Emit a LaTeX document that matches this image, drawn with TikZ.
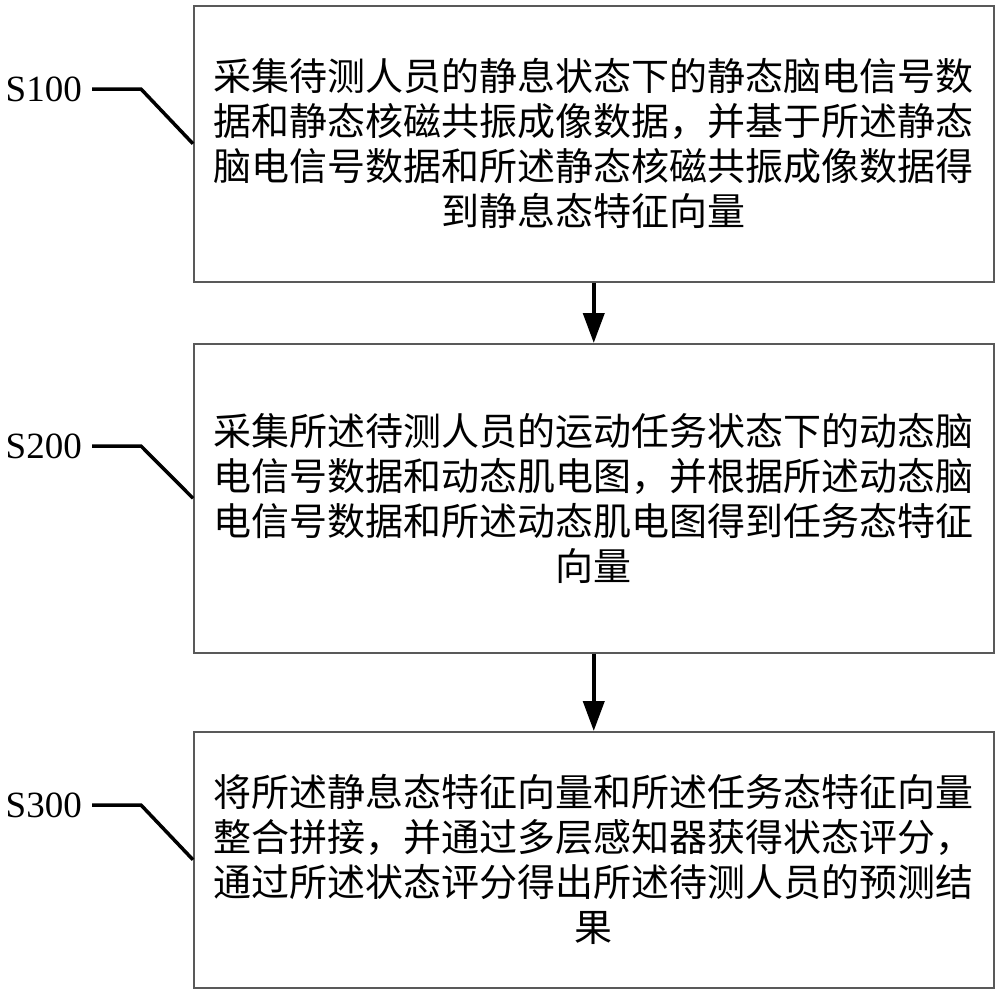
\documentclass[tikz,border=0pt]{standalone}
\usepackage{fontspec}
\setmainfont{Liberation Serif}
\newfontfamily\cjk{Noto Sans CJK SC}
\usetikzlibrary{arrows.meta}
\begin{document}
\begin{tikzpicture}[x=1pt,y=-1pt,
 stepbox/.style={draw=black!65, line width=1.5pt, minimum width=800pt, inner sep=0pt, anchor=north west,
   font=\cjk\fontsize{38}{45}\selectfont, align=center},
 lbl/.style={font=\fontsize{37}{40}\selectfont, anchor=east, inner sep=0pt},
 lead/.style={line width=3.5pt, line join=miter},
 flow/.style={line width=4pt, -{Triangle[length=30pt,width=21pt]}}]
\useasboundingbox (0,0) rectangle (1000,994);

\node[stepbox, minimum height=276pt] (b1) at (193,5)
 {采集待测人员的静息状态下的静态脑电信号数\\据和静态核磁共振成像数据，并基于所述静态\\脑电信号数据和所述静态核磁共振成像数据得\\到静息态特征向量};
\node[stepbox, minimum height=309pt] (b2) at (193,343)
 {采集所述待测人员的运动任务状态下的动态脑\\电信号数据和动态肌电图，并根据所述动态脑\\电信号数据和所述动态肌电图得到任务态特征\\向量};
\node[stepbox, minimum height=256pt] (b3) at (193,731)
 {将所述静息态特征向量和所述任务态特征向量\\整合拼接，并通过多层感知器获得状态评分，\\通过所述状态评分得出所述待测人员的预测结\\果};

\node[lbl] (l1) at (82,89) {S100};
\node[lbl] (l2) at (82,446) {S200};
\node[lbl] (l3) at (82,805) {S300};

\coordinate (k1) at (141,89);
\coordinate (k2) at (141,446);
\coordinate (k3) at (141,805);

\draw[lead] ([xshift=10pt]l1.east) -- (k1) -- (b1.west);
\draw[lead] ([xshift=10pt]l2.east) -- (k2) -- (b2.west);
\draw[lead] ([xshift=10pt]l3.east) -- (k3) -- (b3.west);

\draw[flow] (b1.south) -- (b2.north);
\draw[flow] (b2.south) -- (b3.north);
\end{tikzpicture}
\end{document}
